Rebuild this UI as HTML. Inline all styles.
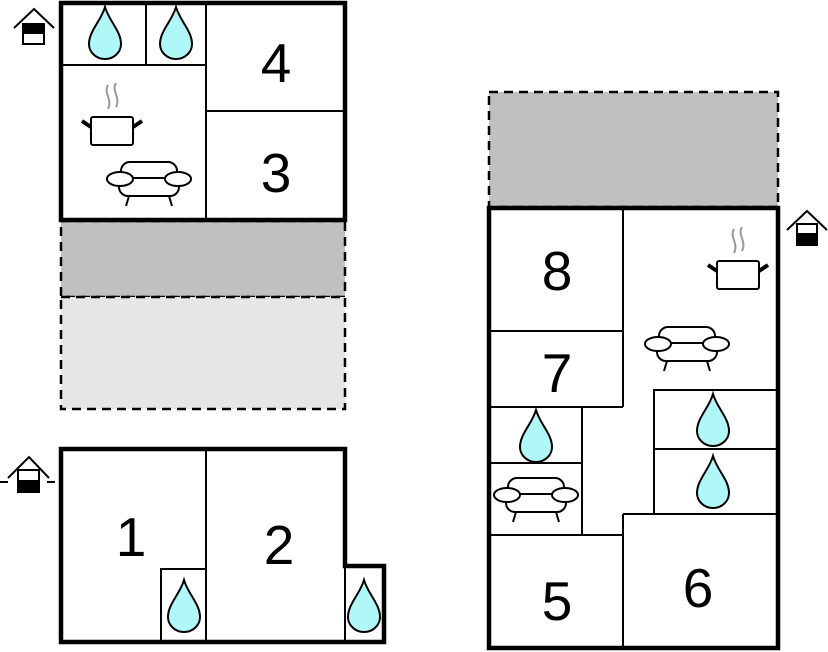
<!DOCTYPE html>
<html><head><meta charset="utf-8"><style>
html,body{margin:0;padding:0;background:#fff;}
svg{display:block;}
text{font-family:"Liberation Sans",sans-serif;font-size:55px;fill:#000;text-anchor:middle;}
</style></head><body>
<svg width="828" height="652" viewBox="0 0 828 652" xmlns="http://www.w3.org/2000/svg">
<defs>
<path id="drop" d="M0,0 C-4,14 -16,24 -16,37 A16,15 0 0 0 16,37 C16,24 4,14 0,0 Z" fill="#b0f8f8" stroke="#000" stroke-width="2"/>
<g id="sofa" fill="#fff" stroke="#000" stroke-width="2">
<rect x="-28" y="-22" width="56" height="22" rx="9"/>
<rect x="-30" y="-6" width="60" height="18" rx="9"/>
<path d="M-20,12 L-23,22 M20,12 L23,22" fill="none"/>
<ellipse cx="-29" cy="-5" rx="13" ry="7"/>
<ellipse cx="29" cy="-5" rx="13" ry="7"/>
</g>
<g id="pot">
<path d="M-4,-46 C-9,-38 1,-32 -4,-22 M4,-48 C-1,-40 9,-34 4,-24" stroke="#999" stroke-width="2" fill="none"/>
<rect x="-21" y="-14" width="42" height="28" rx="2" fill="#fff" stroke="#000" stroke-width="2"/>
<path d="M-21,-4 L-30,-10 M21,-4 L30,-10" stroke="#000" stroke-width="4"/>
</g>
</defs>

<rect x="61" y="221" width="284" height="76" fill="#c0c0c0" stroke="#000" stroke-width="2.5" stroke-dasharray="9,6"/>
<rect x="61" y="297" width="284" height="112" fill="#e6e6e6" stroke="#000" stroke-width="2.5" stroke-dasharray="9,6"/>

<g stroke="#000" fill="none">
<path d="M206,3 V220 M61,65 H206 M146,3 V65 M206,111 H345" stroke-width="2"/>
<rect x="61" y="3" width="284" height="217" stroke-width="4.5"/>
</g>
<use href="#drop" x="105" y="7"/>
<use href="#drop" x="176" y="7"/>
<use href="#pot" x="112" y="131"/>
<use href="#sofa" x="149" y="184"/>
<text x="276" y="82">4</text>
<text x="276" y="192">3</text>

<g stroke="#000" fill="none">
<path d="M206,449 V642 M161,642 V569 H206" stroke-width="2"/>
<path d="M61,449 H345 V566 H384 V642 H61 Z" stroke-width="4.5"/>
<path d="M345,566 V642" stroke-width="2"/>
</g>
<use href="#drop" x="184" y="580"/>
<use href="#drop" x="364" y="580"/>
<text x="131" y="556">1</text>
<text x="279" y="564">2</text>

<rect x="489" y="92" width="289" height="115" fill="#c0c0c0" stroke="#000" stroke-width="2.5" stroke-dasharray="9,6"/>
<g stroke="#000" fill="none">
<path d="M623,208 V407 M489,331 H623 M489,407 H623 M582,407 V535 M489,463 H582 M489,535 H623 M623,514 V648 M623,514 H778 M654,514 V390 H778 M654,449 H778" stroke-width="2"/>
<rect x="489" y="208" width="289" height="440" stroke-width="4.5" fill="none"/>
</g>
<use href="#drop" x="536" y="410"/>
<use href="#drop" x="713" y="394"/>
<use href="#drop" x="713" y="456"/>
<use href="#pot" x="738" y="275"/>
<use href="#sofa" x="687" y="349"/>
<use href="#sofa" x="536" y="500"/>
<text x="557" y="290">8</text>
<text x="557" y="392">7</text>
<text x="557" y="620">5</text>
<text x="698" y="607">6</text>

<g stroke="#000" stroke-width="2" fill="#fff">
<path d="M14,28 L34,9 L54,28" fill="none"/>
<rect x="23" y="24" width="21" height="20"/>
<rect x="23" y="24" width="21" height="9" fill="#000"/>

<path d="M787,230 L807,211 L827,230" fill="none"/>
<rect x="797" y="224" width="20" height="21"/>
<rect x="797" y="234" width="20" height="11" fill="#000"/>

<path d="M8,478 L29,457 L49,478" fill="none"/>
<rect x="18" y="470" width="21" height="22"/>
<rect x="18" y="481" width="21" height="11" fill="#000"/>
<path d="M0,482 H8 M47,482 H55" fill="none"/>
</g>
</svg>
</body></html>
